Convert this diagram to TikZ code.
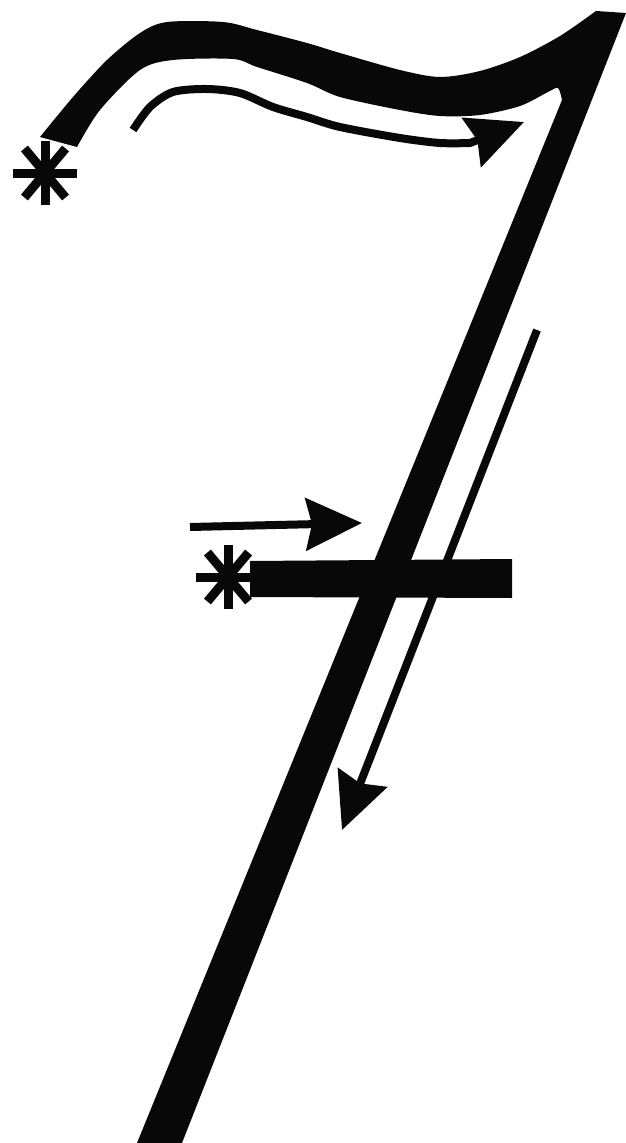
\documentclass[tikz,border=0pt]{standalone}
\usepackage{tikz}
\usetikzlibrary{arrows.meta}
\definecolor{myink}{RGB}{8,8,8}
\tikzset{
  inkstroke/.style={fill=myink, draw=none},
  arrow/.style={-{Stealth[length=56pt, width=52pt, inset=6pt]}, line width=8pt, color=myink},
  starline/.style={line width=9pt, color=myink}
}

\begin{document}
\begin{tikzpicture}[x=1pt, y=-1pt]
  \useasboundingbox (0,0) rectangle (626,1143);
  % Start points
  \coordinate (start1) at (45,173);
  \coordinate (start2) at (228,577);

  % Stroke 1: wave on top and the long diagonal
  \fill[inkstroke] plot[smooth] coordinates {(40,137) (73,97) (107,60) (140,33) (167,22) (223,22) (257,30) (307,43) (340,53) (400,70) (440,77) (480,71) (520,57) (560,36) (596,11)}
    -- (626,13) -- (182,1143) -- (137,1143) -- (562,100)
    -- plot[smooth] coordinates {(562,100) (558,88) (548,92) (520,106) (480,115) (440,116) (400,110) (340,97) (307,83) (257,67) (233,59) (173,60) (140,70) (100,110) (77,147)} -- cycle;

  % Stroke 2: horizontal bar
  \fill[inkstroke] (250,561) -- (512,559) -- (512,598) -- (250,597) -- cycle;

  % Direction arrows
  \coordinate (a1end) at (524,122);
  \coordinate (a2from) at (190,527);
  \coordinate (a2to) at (362,523);
  \coordinate (a3from) at (537,330);
  \coordinate (a3to) at (342,830);
  \draw[arrow] plot[smooth] coordinates {(133,130) (150,107) (173,92) (207,89) (240,93) (273,107) (307,117) (340,127) (400,138) (440,143) (470,143)} -- (a1end);
  \draw[arrow] (a2from) -- (a2to);
  \draw[arrow] (a3from) -- (a3to);

  % Asterisks at the start points
  \foreach \p in {start1,start2}
    \foreach \a in {0,50,90,130}
      \draw[starline] (\p) ++(\a:32) -- ++(\a:-64);
\end{tikzpicture}
\end{document}
